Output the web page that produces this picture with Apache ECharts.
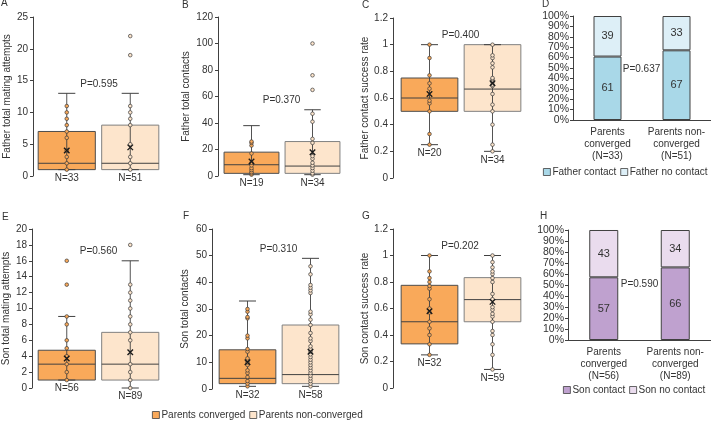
<!DOCTYPE html>
<html><head><meta charset="utf-8">
<script src="https://cdn.jsdelivr.net/npm/echarts@6/dist/echarts.min.js"></script>
<style>html,body{margin:0;padding:0;background:#fff}#c{width:711px;height:423px}</style>
</head><body><div id="c"></div>
<script>
// ---------- data ----------
const groups = ['Parents converged', 'Parents non-converged'];

// box = [min, Q1, median, Q3, max]
const A_n = ['N=33', 'N=51'];
const A_box = [[1, 1, 2, 7, 13], [1, 1, 2, 8, 13]];
const A_mean = [4.0, 4.5];
const A_pts = [[1, 2, 3, 4, 6, 7, 8, 9, 10, 11], [1, 2, 3, 5, 8, 9, 10, 11, 19, 22]];

const B_n = ['N=19', 'N=34'];
const B_box = [[1, 2, 8.5, 18, 38], [1, 2, 7.5, 26, 50]];
const B_mean = [11, 18];
const B_pts = [[1, 2, 3, 4.5, 6, 8, 10, 17, 23, 25, 26], [1, 2, 4, 6, 8, 10, 13, 15, 25, 28, 41, 47, 65, 76, 100]];

const C_n = ['N=20', 'N=34'];
const C_box = [[0.25, 0.5, 0.6, 0.75, 1.0], [0.2, 0.5, 0.667, 1.0, 1.0]];
const C_mean = [0.63, 0.71];
const C_pts = [[0.25, 0.33, 0.5, 0.56, 0.58, 0.67, 0.71, 0.77, 0.9, 1.0],
               [0.2, 0.25, 0.4, 0.5, 0.55, 0.63, 0.69, 0.7, 0.72, 0.74, 0.75, 0.83, 0.86, 0.9, 0.92, 1.0]];

const E_n = ['N=56', 'N=89'];
const E_box = [[1, 1, 3, 4.75, 9], [0, 1, 3, 7, 16]];
const E_mean = [3.7, 4.5];
const E_pts = [[1, 2, 3, 4, 5, 6, 8, 9, 13, 16], [0, 1, 2, 3, 6, 7, 8, 9, 10, 11, 12, 13, 18]];

const F_n = ['N=32', 'N=58'];
const F_box = [[1, 2, 4, 14.7, 33], [1, 2, 5.4, 24, 49]];
const F_mean = [10, 14];
const F_pts = [[1, 2, 3, 4.5, 6, 7, 9, 10, 11, 11.5, 14, 15, 19, 20, 26.5, 27, 29, 30],
               [1, 2, 3, 4, 5, 6, 7, 8, 9, 10, 11, 12, 13, 14, 15, 16, 18, 19, 21, 24, 26, 28, 29, 36, 37, 38, 39, 43, 46]];

const G_n = ['N=32', 'N=59'];
const G_box = [[0.25, 0.333, 0.5, 0.775, 1.0], [0.14, 0.5, 0.667, 0.833, 1.0]];
const G_mean = [0.58, 0.65];
const G_pts = [[0.25, 0.33, 0.4, 0.45, 0.5, 0.57, 0.6, 0.67, 0.75, 0.77, 0.8, 0.83, 0.88, 1.0],
               [0.14, 0.25, 0.33, 0.4, 0.43, 0.5, 0.54, 0.56, 0.59, 0.61, 0.67, 0.71, 0.8, 0.83, 0.86, 0.88, 0.91, 0.95, 1.0]];

const D_cats = ['Parents\nconverged\n(N=33)', 'Parents non-\nconverged\n(N=51)'];
const D_contact = [61, 67];
const D_noContact = [39, 33];
const D_names = ['Father contact', 'Father no contact'];

const H_cats = ['Parents\nconverged\n(N=56)', 'Parents non-\nconverged\n(N=89)'];
const H_contact = [57, 66];
const H_noContact = [43, 34];
const H_names = ['Son contact', 'Son no contact'];

const yTitles = ['Father total mating attempts', 'Father total contacts', 'Father contact success rate',
                 'Son total mating attempts', 'Son total contacts', 'Son contact success rate'];
const yMax = [25, 120, 1.2, 20, 60, 1.2];
const yStep = [5, 20, 0.2, 2, 10, 0.2];
const pTexts = ['P=0.595', 'P=0.370', 'P=0.400', 'P=0.637', 'P=0.560', 'P=0.310', 'P=0.202', 'P=0.590'];
const letters = ['A', 'B', 'C', 'D', 'E', 'F', 'G', 'H'];

// ---------- styling / layout ----------
const FONT = '"Liberation Sans", Arial, sans-serif';
const TXT = '#333333';
const AX = '#404040';
const boxFill = ['#F9A95A', '#FDE5CC'];
const boxStroke = ['#4d4d4d', '#808080'];

const boxPanels = [
  {n: A_n, box: A_box, mean: A_mean, pts: A_pts, grid: {left: 35, top: 17, width: 127, height: 159}, offset: 2, gap: 21},
  {n: B_n, box: B_box, mean: B_mean, pts: B_pts, grid: {left: 221, top: 17, width: 122, height: 159}, offset: 3, gap: 27},
  {n: C_n, box: C_box, mean: C_mean, pts: C_pts, grid: {left: 398, top: 18, width: 126, height: 160}, offset: 5, gap: 23},
  {n: E_n, box: E_box, mean: E_mean, pts: E_pts, grid: {left: 35, top: 229, width: 127, height: 159}, offset: 3, gap: 21},
  {n: F_n, box: F_box, mean: F_mean, pts: F_pts, grid: {left: 216, top: 229, width: 126, height: 160}, offset: 4, gap: 22},
  {n: G_n, box: G_box, mean: G_mean, pts: G_pts, grid: {left: 398, top: 229, width: 126, height: 159}, offset: 5, gap: 23}
];
const barPanels = [
  {cats: D_cats, a: D_contact, b: D_noContact, names: D_names, colors: ['#A9D8E8', '#DDEFF7'],
   grid: {left: 573, top: 16, width: 138, height: 104}, barWidth: 28, legend: {left: 543, top: 167}},
  {cats: H_cats, a: H_contact, b: H_noContact, names: H_names, colors: ['#BFA1CF', '#EADCEE'],
   grid: {left: 568, top: 230, width: 143, height: 110}, barWidth: 29, legend: {left: 563, top: 385}}
];
const letterPos = [[1, 3.5], [182, 5.5], [362, 5], [542, 4], [2, 217], [183, 216.5], [362, 216], [540, 216]];
const pPos = [[99, 84], [281.5, 100.5], [460.5, 35], [641.5, 69], [98.5, 251.5], [278.5, 249], [460, 246], [639.5, 284]];

function makeRender(label, g) {
  return function (params, api) {
    const x = api.value(0);
    const mn = api.value(1), q1 = api.value(2), md = api.value(3), q3 = api.value(4), mx = api.value(5);
    const band = api.size([1, 0])[0];
    const bw = band * 0.9, cw = bw * 0.3;
    const cx = api.coord([x, md])[0];
    const Y = v => api.coord([x, v])[1];
    const yMin = Y(mn), yQ1 = Y(q1), yMd = Y(md), yQ3 = Y(q3), yMx = Y(mx);
    const ls = {stroke: AX, lineWidth: 1};
    return {
      type: 'group',
      children: [
        {type: 'rect', shape: {x: cx - bw / 2, y: yQ3, width: bw, height: yQ1 - yQ3},
         style: {fill: boxFill[g], stroke: boxStroke[g], lineWidth: 1}},
        {type: 'line', shape: {x1: cx, y1: yMin, x2: cx, y2: yMx}, style: {stroke: AX, lineWidth: 0.9}},
        {type: 'line', shape: {x1: cx - cw / 2, y1: yMin, x2: cx + cw / 2, y2: yMin}, style: ls},
        {type: 'line', shape: {x1: cx - cw / 2, y1: yMx, x2: cx + cw / 2, y2: yMx}, style: ls},
        {type: 'line', shape: {x1: cx - bw / 2, y1: yMd, x2: cx + bw / 2, y2: yMd}, style: ls},
        {type: 'text', style: {text: label, x: cx, y: yMin + 3.5, align: 'center', verticalAlign: 'top',
          fontSize: 10, fontFamily: FONT, fill: TXT}}
      ]
    };
  };
}

const grids = [], xAxes = [], yAxes = [], series = [], extraY = [];
const gridOrder = [0, 1, 2, 'D', 3, 4, 5, 'H'];
const pctLabel = (keepRem) => (v => (Math.round(v) % 20 === keepRem ? Math.round(v) + '%' : ''));
gridOrder.forEach((key, gi) => {
  if (typeof key === 'number') {
    const p = boxPanels[key];
    grids.push(p.grid);
    xAxes.push({gridIndex: gi, type: 'category', data: p.n, axisLine: {show: false}, axisTick: {show: false},
      axisLabel: {show: false}, splitLine: {show: false}});
    yAxes.push({gridIndex: gi, type: 'value', min: 0, max: yMax[key], interval: yStep[key], offset: p.offset,
      axisLine: {show: true, lineStyle: {color: AX}}, axisTick: {show: true, length: 3, lineStyle: {color: AX}},
      axisLabel: {fontSize: 10, color: TXT, margin: 5, fontFamily: FONT, showMinLabel: true, showMaxLabel: true},
      splitLine: {show: false},
      name: yTitles[key], nameLocation: 'middle', nameGap: p.gap,
      nameTextStyle: {fontSize: 10, color: TXT, fontFamily: FONT}});
    [0, 1].forEach(g => {
      series.push({type: 'custom', name: groups[g], xAxisIndex: gi, yAxisIndex: gi,
        itemStyle: {color: boxFill[g], borderColor: boxStroke[g]},
        data: [[g].concat(p.box[g])], encode: {x: 0, y: [1, 2, 3, 4, 5]},
        renderItem: makeRender(p.n[g], g), z: 2, silent: true});
      series.push({type: 'scatter', name: 'points', xAxisIndex: gi, yAxisIndex: gi,
        data: p.pts[g].map(v => [g, v]), symbol: 'circle', symbolSize: 3.6,
        itemStyle: {color: boxFill[g], borderColor: '#3a3a3a', borderWidth: 0.7, opacity: 1}, z: 3, silent: true});
      series.push({type: 'scatter', name: 'mean', xAxisIndex: gi, yAxisIndex: gi,
        data: [[g, p.mean[g]]], symbol: 'path://M0 0L10 10M10 0L0 10', symbolSize: 5.5,
        itemStyle: {color: 'rgba(0,0,0,0)', borderColor: '#1a1a1a', borderWidth: 1.4, opacity: 1}, z: 4, silent: true});
    });
  } else {
    const p = barPanels[key === 'D' ? 0 : 1];
    grids.push(p.grid);
    xAxes.push({gridIndex: gi, type: 'category', data: p.cats, axisLine: {show: true, lineStyle: {color: AX}},
      axisTick: {show: false}, axisLabel: {fontSize: 10, color: TXT, lineHeight: 12, margin: 6, interval: 0, fontFamily: FONT}});
    const lab = {fontSize: 10.5, color: TXT, margin: 4, fontFamily: FONT, showMinLabel: true, showMaxLabel: true};
    // two overlaid axes (even / odd tens) so that every tick label is shown on the short axis
    yAxes.push({gridIndex: gi, type: 'value', position: 'left', min: 0, max: 100, interval: 10,
      axisLine: {show: true, lineStyle: {color: AX}}, axisTick: {show: true, length: 3, lineStyle: {color: AX}},
      axisLabel: Object.assign({formatter: pctLabel(0)}, lab), splitLine: {show: false}});
    extraY.push({gridIndex: gi, type: 'value', position: 'left', offset: 0, min: 0, max: 100, interval: 10,
      axisLine: {show: false}, axisTick: {show: false},
      axisLabel: Object.assign({formatter: pctLabel(10)}, lab), splitLine: {show: false}});
    [p.a, p.b].forEach((vals, k) => {
      series.push({type: 'bar', name: p.names[k], xAxisIndex: gi, yAxisIndex: gi, stack: 'st' + gi,
        data: vals, barWidth: p.barWidth,
        itemStyle: {color: p.colors[k], borderColor: AX, borderWidth: 1},
        label: {show: true, position: 'inside', fontSize: 11, color: TXT, fontFamily: FONT}, silent: true});
    });
  }
});
extraY.forEach(a => yAxes.push(a));

const legendCommon = {orient: 'horizontal', icon: 'rect', itemWidth: 7, itemHeight: 7, itemGap: 4, padding: 0,
  selectedMode: false, itemStyle: {borderColor: AX, borderWidth: 0.8},
  textStyle: {fontSize: 10, color: TXT, fontFamily: FONT, padding: [0, 0, 0, -3]}};
const legends = [
  Object.assign({}, legendCommon, {data: groups, left: 152, top: 410}),
  Object.assign({}, legendCommon, {data: D_names, left: barPanels[0].legend.left, top: barPanels[0].legend.top}),
  Object.assign({}, legendCommon, {data: H_names, left: barPanels[1].legend.left, top: barPanels[1].legend.top})
];

const graphics = [];
letters.forEach((t, i) => graphics.push({type: 'text', x: letterPos[i][0], y: letterPos[i][1],
  style: {text: t, fontSize: 10, fontFamily: FONT, fill: TXT, align: 'left', verticalAlign: 'middle'}}));
pTexts.forEach((t, i) => graphics.push({type: 'text', x: pPos[i][0], y: pPos[i][1],
  style: {text: t, fontSize: 10, fontFamily: FONT, fill: TXT, align: 'center', verticalAlign: 'middle'}}));

const chart = echarts.init(document.getElementById('c'), null, {renderer: 'canvas'});
chart.setOption({
  animation: false,
  backgroundColor: '#ffffff',
  textStyle: {fontFamily: FONT},
  grid: grids, xAxis: xAxes, yAxis: yAxes, series: series,
  legend: legends, graphic: graphics
});
</script></body></html>
